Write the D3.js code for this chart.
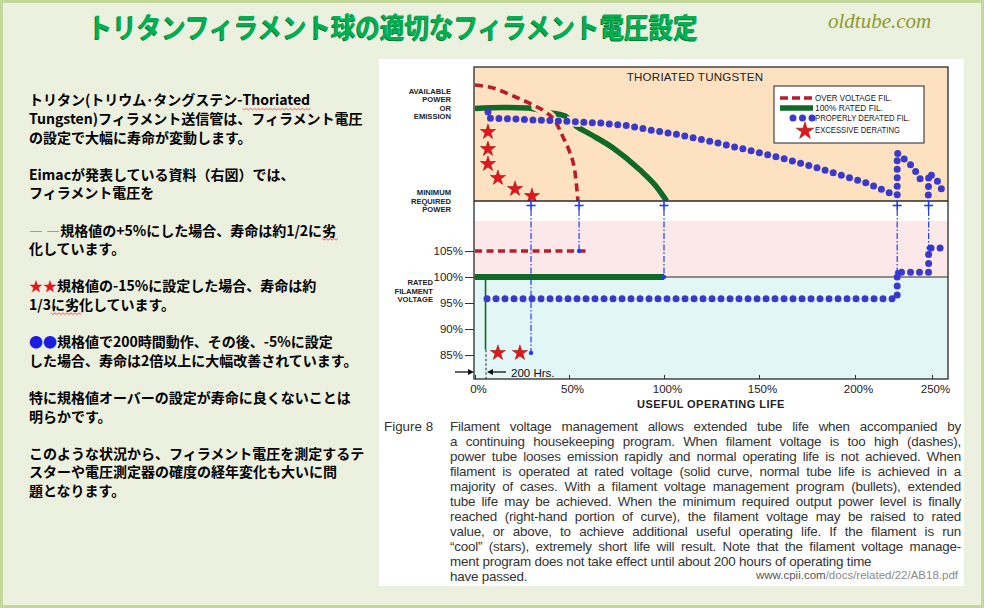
<!DOCTYPE html>
<html lang="ja"><head><meta charset="utf-8">
<script src="https://cdn.jsdelivr.net/npm/d3@7/dist/d3.min.js"></script>
<style>
html,body{margin:0;padding:0;background:#ecf0df;overflow:hidden}
svg{display:block}
</style></head><body>
<svg id="c" width="984" height="608" xmlns="http://www.w3.org/2000/svg"></svg>
<script>
// ---------------- data ----------------
const titleText = "トリタンフィラメント球の適切なフィラメント電圧設定";
const siteText = "oldtube.com";
const chartTitle = "THORIATED TUNGSTEN";
const xTicks = [0, 50, 100, 150, 200, 250];
const voltTicks = [85, 90, 95, 100, 105];
const legendLabels = ["OVER VOLTAGE FIL.", "100% RATED FIL.", "PROPERLY DERATED FIL.", "EXCESSIVE DERATING"];
const powerLabelTop = ["AVAILABLE", "POWER", "OR", "EMISSION"];
const powerLabelMin = ["MINIMUM", "REQUIRED", "POWER"];
const voltLabel = ["RATED", "FILAMENT", "VOLTAGE"];
// [useful life %, power level (0 = minimum required)]
const overVoltPower = [[0,86.6],[9.6,84.3],[20.2,78.4],[30.9,71.6],[38.3,65.7],[42.6,59.7],[46.8,47.8],[50.5,35.8],[53.2,20.9],[54.2,8.2],[54.7,0]];
const ratedPower = [[0,69],[15,69.8],[28,69.4],[33,68.2],[39.9,66],[47.9,63.4],[53.7,56],[61,50],[73.2,39.6],[87.4,23.1],[95.3,11.9],[101.4,0]];
const deratedPowerA = [[6.9,66.4],[6.9,61.9],[20.2,61.2],[33,60.4],[45.2,59.7],[66.3,58.2],[82,56],[92.6,53],[108.5,49.3],[126,44],[144,38.1],[161.5,32.1],[178.9,25.4],[196,17.9],[207.8,13.4],[222.7,6],[227.4,4.5],[227.4,35.8],[231.2,32.1],[235.7,27.6],[238.3,23.9],[240.9,19.4],[243.5,14.2],[244.6,13.6]];
const deratedPowerB = [[247.6,4.5],[247.9,20.9],[253.2,15.7],[255.2,10.4],[258.4,6]];
const starPower = [[6.9,51.5],[6.9,38.8],[6.9,27.6],[12.2,17.2],[21.3,9],[30.3,3.7]];
// [useful life %, filament voltage %]
const overVoltFil = [[0,105],[59.5,105]];
const ratedFil = [[0,100],[100,100]];
const deratedFil = [[6.4,95.8],[227.4,95.8],[227.4,100.9],[247.8,100.9],[247.8,105.6],[258.5,105.6]];
const starVolt = [[12.2,85.4],[23.9,85.4]];
const lifeEnds = [[29.8,85.4],[55.3,105],[100,100],[227.4,100.9],[247.8,105.6]];
const hrs200Life = 5.6;
const hrs200Label = "200 Hrs.";
const xAxisTitle = "USEFUL OPERATING LIFE";
const figLabel = "Figure 8";
const caption = [
 "Filament voltage management allows extended tube life when accompanied by",
 "a continuing housekeeping program. When filament voltage is too high (dashes),",
 "power tube looses emission rapidly and normal operating life is not achieved. When",
 "filament is operated at rated voltage (solid curve, normal tube life is achieved in a",
 "majority of cases. With a filament voltage management program (bullets), extended",
 "tube life may be achieved. When the minimum required output power level is finally",
 "reached (right-hand portion of curve), the filament voltage may be raised to rated",
 "value, or above, to achieve additional useful operating life. If the filament is run",
 "\u201Ccool\u201D (stars), extremely short life will result. Note that the filament voltage manage-",
 "ment program does not take effect until about 200 hours of operating time",
 "have passed."
];
const sourceParts = ["www.cpii.com", "/docs/related/22/AB18.pdf"];
// left text: null = blank line; segments [text, color]
const leftText = [
 [["トリタン(トリウム･タングステン-Thoriated","k"]],
 [["Tungsten)フィラメント送信管は、フィラメント電圧","k"]],
 [["の設定で大幅に寿命が変動します。","k"]],
 null,
 [["Eimacが発表している資料（右図）では、","k"]],
 [["フィラメント電圧を","k"]],
 null,
 [["— —","r"],["規格値の+5%にした場合、寿命は約1/2に劣","k"]],
 [["化しています。","k"]],
 null,
 [["★★","r"],["規格値の-15%に設定した場合、寿命は約","k"]],
 [["1/3に劣化しています。","k"]],
 null,
 [["●●","b"],["規格値で200時間動作、その後、-5%に設定","k"]],
 [["した場合、寿命は2倍以上に大幅改善されています。","k"]],
 null,
 [["特に規格値オーバーの設定が寿命に良くないことは","k"]],
 [["明らかです。","k"]],
 null,
 [["このような状況から、フィラメント電圧を測定するテ","k"]],
 [["スターや電圧測定器の確度の経年変化も大いに問","k"]],
 [["題となります。","k"]]
];
const squiggles = [[0,17,25],[7,-1,-1],[11,3,4]];

// ---------------- drawing ----------------
const svg = d3.select("#c");
const LAT = "'Liberation Sans', Arial, Helvetica, sans-serif";
const JP = "'Noto Sans CJK JP', 'Noto Sans CJK SC', sans-serif";
const colors = {k:"#000", r:"#e8141c", b:"#1c1ce0"};
const GREEN = "#0f6a27", RED = "#b81d2c", BLUE = "#3b39cc", PEACH = "#fde1c1", MARK = "#1f3cf2";

svg.append("rect").attr("width",984).attr("height",608).attr("fill","#ecf0df");
svg.append("rect").attr("x",1.5).attr("y",1.5).attr("width",981).attr("height",605)
  .attr("fill","none").attr("stroke","#c4d79c").attr("stroke-width",3);
svg.append("rect").attr("x",379).attr("y",59).attr("width",585).attr("height",527).attr("fill","#fff");

// title
svg.append("text").attr("x",87).attr("y",38.5).attr("font-family",JP).attr("font-weight",700)
  .attr("font-size",28).attr("textLength",610).attr("lengthAdjust","spacingAndGlyphs")
  .attr("fill","#067a3a").text(titleText);
svg.append("text").attr("x",88).attr("y",38).attr("font-family",JP).attr("font-weight",700)
  .attr("font-size",28).attr("textLength",610).attr("lengthAdjust","spacingAndGlyphs")
  .attr("fill","#00b050").text(titleText);
svg.append("text").attr("x",828).attr("y",28).attr("font-family","'Liberation Serif', 'DejaVu Serif', serif")
  .attr("font-style","italic").attr("font-size",21).attr("fill","#8e9a2a").text(siteText);

// left text
const ltG = svg.append("g").attr("font-family",JP).attr("font-weight",700).attr("font-size",14);
const ltNodes = [];
leftText.forEach((line,k)=>{
  if(!line){ ltNodes.push(null); return; }
  const t = ltG.append("text").attr("x",29).attr("y",105.3 + k*18.6);
  line.forEach(([s,c])=>{
    const sp = t.append("tspan").attr("fill",colors[c]).text(s);
    if(c==="r" && s.startsWith("—")) sp.attr("font-weight",400);
  });
  ltNodes.push(t);
});
squiggles.forEach(([k,a,b])=>{
  const node = ltNodes[k].node();
  const n = node.getNumberOfChars();
  const ia = a<0 ? n+a : a, ib = b<0 ? n+b : b;
  const ea = node.getExtentOfChar(ia), eb = node.getExtentOfChar(ib);
  const x0 = ea.x, x1 = eb.x + eb.width, yy = 105.3 + k*18.6 + 3;
  let d = `M${x0},${yy}`;
  for(let xx=x0, i=0; xx<x1; xx+=2, i++) d += `L${xx+2},${yy + (i%2? 0 : 1.6)}`;
  ltG.append("path").attr("d",d).attr("fill","none").attr("stroke","#e03a3a").attr("stroke-width",0.8);
});

// chart scales
const L = 474, R = 948, T = 67, B = 379, bandTop = 221;
const x = d3.scaleLinear().domain(xTicks).range([475,569,664,759,855,932]);
const yP = d3.scaleLinear().domain([0,100]).range([201,67]);
const yV = d3.scaleLinear().domain([85,105]).range([355,251]);
const M = yP(0);

const ch = svg.append("g");
ch.append("rect").attr("x",L).attr("y",T).attr("width",R-L).attr("height",M-T).attr("fill",PEACH);
ch.append("rect").attr("x",L).attr("y",M).attr("width",R-L).attr("height",bandTop-M).attr("fill","#fff");
ch.append("rect").attr("x",L).attr("y",bandTop).attr("width",R-L).attr("height",yV(100)-bandTop).attr("fill","#fce8e8");
ch.append("rect").attr("x",L).attr("y",yV(100)).attr("width",R-L).attr("height",B-yV(100)).attr("fill","#e3f6f6");

const defs = svg.append("defs");
defs.append("clipPath").attr("id","up").append("rect").attr("x",L).attr("y",T).attr("width",R-L).attr("height",M-T);
defs.append("clipPath").attr("id","hr").append("rect").attr("x",x(30)).attr("y",T).attr("width",x(43)-x(30)).attr("height",M-T);
defs.append("clipPath").attr("id","hb").append("rect").attr("x",x(49)).attr("y",T).attr("width",x(56)-x(49)).attr("height",M-T);

const lineP = d3.line().x(d=>x(d[0])).y(d=>yP(d[1]));
const lineV = d3.line().x(d=>x(d[0])).y(d=>yV(d[1]));
const smoothP = d3.line().x(d=>x(d[0])).y(d=>yP(d[1])).curve(d3.curveMonotoneX);
const star = (s)=>d3.symbol(d3.symbolStar, s)();

// chart title
ch.append("text").attr("x",695).attr("y",80.5).attr("text-anchor","middle").attr("font-family",LAT)
  .attr("font-size",11.6).attr("letter-spacing",0.2).attr("fill","#222").text(chartTitle);

// upper panel curves
const up = ch.append("g").attr("clip-path","url(#up)");
up.append("path").attr("d",smoothP(ratedPower)).attr("fill","none").attr("stroke",GREEN).attr("stroke-width",5.5);
up.append("path").attr("d",smoothP(overVoltPower)).attr("clip-path","url(#hr)").attr("fill","none").attr("stroke",PEACH).attr("stroke-width",9);
up.append("path").attr("d",smoothP(overVoltPower)).attr("fill","none").attr("stroke",RED)
  .attr("stroke-width",3.6).attr("stroke-dasharray","8 5");
up.append("path").attr("d",lineP(deratedPowerA)).attr("clip-path","url(#hb)").attr("fill","none").attr("stroke",PEACH).attr("stroke-width",10);
[deratedPowerA, deratedPowerB].forEach(seg=>{
  up.append("path").attr("d",lineP(seg)).attr("fill","none").attr("stroke",BLUE)
    .attr("stroke-width",7).attr("stroke-linecap","round").attr("stroke-dasharray","0 8.5");
});
up.selectAll("path.st").data(starPower).join("path").attr("class","st")
  .attr("transform",d=>`translate(${x(d[0])},${yP(d[1])})`).attr("d",star(72))
  .attr("fill","#e3161c").attr("stroke","#8a0606").attr("stroke-width",0.5);

// lower panel
ch.append("line").attr("x1",L).attr("x2",R).attr("y1",yV(100)).attr("y2",yV(100)).attr("stroke","#2a2a2a").attr("stroke-width",1);
ch.append("path").attr("d",lineV(overVoltFil)).attr("fill","none").attr("stroke",RED)
  .attr("stroke-width",3.4).attr("stroke-dasharray","7 4.5");
ch.append("path").attr("d",lineV(ratedFil)).attr("fill","none").attr("stroke",GREEN).attr("stroke-width",6);
ch.append("line").attr("x1",x(hrs200Life)).attr("x2",x(hrs200Life)).attr("y1",yV(100)).attr("y2",yV(86))
  .attr("stroke",GREEN).attr("stroke-width",1.6);
ch.append("line").attr("x1",x(hrs200Life)+0.5).attr("x2",x(hrs200Life)+0.5).attr("y1",yV(86)).attr("y2",B)
  .attr("stroke","#222").attr("stroke-width",1).attr("stroke-dasharray","2.5 2");
ch.append("path").attr("d",lineV(deratedFil)).attr("fill","none").attr("stroke",BLUE)
  .attr("stroke-width",7).attr("stroke-linecap","round").attr("stroke-dasharray","0 9");
ch.selectAll("path.sv").data(starVolt).join("path").attr("class","sv")
  .attr("transform",d=>`translate(${x(d[0])},${yV(d[1])})`).attr("d",star(72))
  .attr("fill","#e3161c").attr("stroke","#8a0606").attr("stroke-width",0.5);

// frame
ch.append("rect").attr("x",L).attr("y",T).attr("width",R-L).attr("height",B-T).attr("fill","none")
  .attr("stroke","#2a2a2a").attr("stroke-width",1.3);
ch.append("line").attr("x1",L).attr("x2",R).attr("y1",M).attr("y2",M).attr("stroke","#2a2a2a").attr("stroke-width",1.3);

// end-of-life markers
lifeEnds.forEach(([l,v])=>{
  const xx = x(l);
  ch.append("line").attr("x1",xx).attr("x2",xx).attr("y1",M+9).attr("y2",yV(v)).attr("stroke",MARK)
    .attr("stroke-width",1.2).attr("stroke-dasharray","6 2 1.5 2");
  ch.append("line").attr("x1",xx).attr("x2",xx).attr("y1",M-1).attr("y2",M+9).attr("stroke",MARK).attr("stroke-width",1.6);
  ch.append("line").attr("x1",xx-4.5).attr("x2",xx+4.5).attr("y1",M+4.5).attr("y2",M+4.5).attr("stroke",MARK).attr("stroke-width",1.6);
  ch.append("circle").attr("cx",xx).attr("cy",yV(v)).attr("r",2.2).attr("fill",MARK);
});

// axes
const ax = ch.append("g").attr("transform",`translate(${L},0)`)
  .call(d3.axisLeft(yV).tickValues(voltTicks).tickSize(9).tickPadding(2).tickFormat(d=>d+"%"));
ax.select(".domain").remove();
ax.selectAll("line").attr("stroke","#333");
ax.selectAll("text").attr("font-family",LAT).attr("font-size",11.5).attr("fill","#222");
const bx = ch.append("g").attr("transform",`translate(0,${B})`)
  .call(d3.axisBottom(x).tickValues(xTicks).tickSize(-4).tickPadding(6).tickFormat(d=>d+"%"));
bx.select(".domain").remove();
bx.selectAll("line").attr("stroke","#333");
bx.selectAll("text").attr("font-family",LAT).attr("font-size",11.5).attr("fill","#222").attr("dx",3);
ch.append("text").attr("x",711).attr("y",408).attr("text-anchor","middle").attr("font-family",LAT)
  .attr("font-weight",700).attr("font-size",11).attr("letter-spacing",0.45).attr("fill","#222").text(xAxisTitle);

// side labels
const lab = (arr, xr, y0, dy)=> arr.forEach((s,i)=> ch.append("text").attr("x",xr).attr("y",y0+i*dy)
  .attr("text-anchor","end").attr("font-family",LAT).attr("font-weight",700).attr("font-size",7.6)
  .attr("fill","#222").text(s));
lab(powerLabelTop, 451, 94, 8.4);
lab(powerLabelMin, 451, 195, 8.6);
lab(voltLabel, 433, 285, 8.6);

// 200 Hrs annotation
const ay = B - 7;
ch.append("line").attr("x1",455).attr("x2",x(0)-6).attr("y1",ay).attr("y2",ay).attr("stroke","#111").attr("stroke-width",1.3);
ch.append("path").attr("d",`M${x(0)-1},${ay}L${x(0)-7},${ay-3}L${x(0)-7},${ay+3}Z`).attr("fill","#111");
const hx = x(hrs200Life)+1.5;
ch.append("line").attr("x1",hx+5).attr("x2",hx+19).attr("y1",ay).attr("y2",ay).attr("stroke","#111").attr("stroke-width",1.3);
ch.append("path").attr("d",`M${hx},${ay}L${hx+6},${ay-3}L${hx+6},${ay+3}Z`).attr("fill","#111");
ch.append("text").attr("x",hx+24).attr("y",ay+4.5).attr("font-family",LAT).attr("font-size",11.5).attr("fill","#111").text(hrs200Label);

// legend
const lg = ch.append("g");
lg.append("rect").attr("x",774).attr("y",86).attr("width",150).attr("height",57).attr("fill","#fff").attr("stroke","#222").attr("stroke-width",1);
const ly = [98, 108, 118, 130];
lg.append("line").attr("x1",780).attr("x2",814).attr("y1",ly[0]).attr("y2",ly[0]).attr("stroke",RED).attr("stroke-width",3.4).attr("stroke-dasharray","8 4");
lg.append("line").attr("x1",780).attr("x2",813).attr("y1",ly[1]).attr("y2",ly[1]).attr("stroke",GREEN).attr("stroke-width",5.5);
lg.append("line").attr("x1",793).attr("x2",813).attr("y1",ly[2]).attr("y2",ly[2]).attr("stroke",BLUE)
  .attr("stroke-width",7).attr("stroke-linecap","round").attr("stroke-dasharray","0 9.5");
lg.append("path").attr("transform",`translate(805,${ly[3]+1})`).attr("d",star(95)).attr("fill","#e3161c").attr("stroke","#8a0606").attr("stroke-width",0.5);
const lw = [77, 68, 95, 85];
legendLabels.forEach((s,i)=> lg.append("text").attr("x",815).attr("y",ly[i]+3).attr("font-family",LAT)
  .attr("font-size",8.4).attr("textLength",lw[i]).attr("lengthAdjust","spacingAndGlyphs").attr("fill","#222").text(s));

// caption
const cg = svg.append("g").attr("font-family",LAT).attr("font-size",13.4).attr("letter-spacing",-0.2).attr("fill","#333");
cg.append("text").attr("x",384).attr("y",431).attr("letter-spacing",0).text(figLabel);
caption.forEach((line,i)=>{
  const t = cg.append("text").attr("x",450).attr("y",431 + i*14.95).text(line);
  if(i < 9){
    const len = t.node().getComputedTextLength();
    const n = (line.match(/ /g)||[]).length;
    t.attr("word-spacing", ((511 - len)/n).toFixed(2));
  }
});
const src = svg.append("text").attr("x",958).attr("y",579).attr("text-anchor","end")
  .attr("font-family",LAT).attr("font-size",11.5);
src.append("tspan").attr("fill","#555").text(sourceParts[0]);
src.append("tspan").attr("fill","#8a8a8a").text(sourceParts[1]);
</script>
</body></html>
